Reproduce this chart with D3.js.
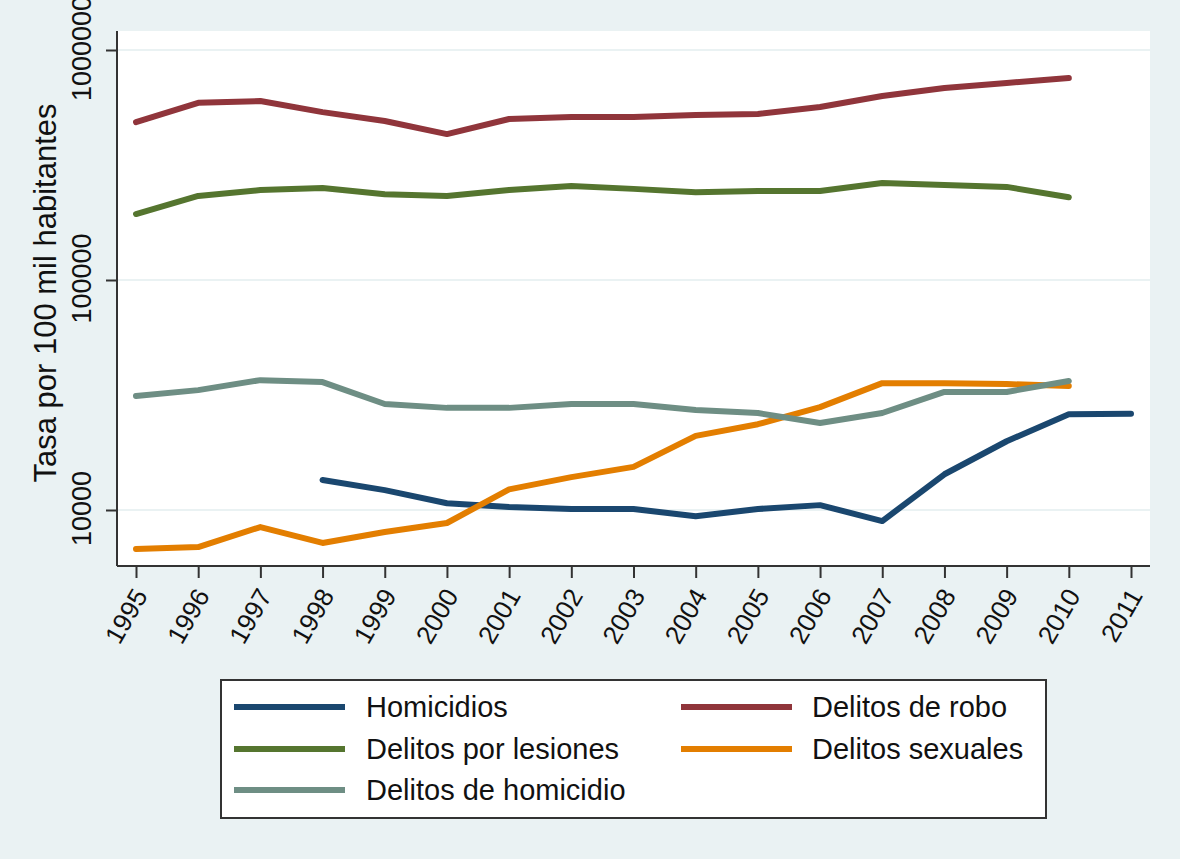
<!DOCTYPE html>
<html>
<head>
<meta charset="utf-8">
<script src="https://cdn.jsdelivr.net/npm/d3@7"></script>
<style>
    body { margin: 0; background: #eaf2f3; }
    svg { display: block; font-family: "Liberation Sans", Arial, sans-serif; }
</style>
</head>
<body>
<svg id="chart" width="1180" height="859"></svg>
<script>
// data (rate per 100 mil habitantes, log scale)
const years = [1995, 1996, 1997, 1998, 1999, 2000, 2001, 2002, 2003, 2004, 2005, 2006, 2007, 2008, 2009, 2010, 2011];
const homicidios = [null, null, null, 13500, 12200, 10700, 10300, 10100, 10100, 9400, 10100, 10500, 8950, 14300, 19900, 26100, 26200];
const delitosRobo = [486000, 589000, 600000, 537000, 491000, 431000, 501000, 511000, 511000, 522000, 527000, 565000, 631000, 684000, 719000, 755000, null];
const delitosLesiones = [193600, 232000, 246000, 251000, 236000, 232000, 246000, 256000, 249000, 241000, 244000, 244000, 264000, 259000, 254000, 229000, null];
const delitosSexuales = [6770, 6900, 8430, 7190, 8020, 8780, 12300, 13900, 15400, 21000, 23600, 28000, 35600, 35600, 35300, 34600, null];
const delitosHomicidio = [31300, 33200, 36700, 36000, 28900, 27800, 27800, 28900, 28900, 27200, 26400, 23900, 26400, 32600, 32600, 36400, null];

const seriesNames = ["Homicidios", "Delitos de robo", "Delitos por lesiones", "Delitos sexuales", "Delitos de homicidio"];
const seriesValues = [homicidios, delitosRobo, delitosLesiones, delitosSexuales, delitosHomicidio];
const seriesColors = ["#1a476f", "#90353b", "#55752f", "#e37e00", "#6e8e84"];
const yTicks = [10000, 100000, 1000000];

const svg = d3.select("#chart");

// graph region and plot region
svg.append("rect").attr("width", 1180).attr("height", 859).attr("fill", "#eaf2f3");
const plot = { left: 117, right: 1150, top: 31, bottom: 566 };
svg.append("rect")
    .attr("x", plot.left).attr("y", plot.top)
    .attr("width", plot.right - plot.left).attr("height", plot.bottom - plot.top)
    .attr("fill", "#fff");

const x = d3.scaleLinear().domain([1995, 2011]).range([136, 1131]);
const y = d3.scaleLog().domain([10000, 1000000]).range([510, 50]);

// grid
svg.append("g").selectAll("line")
    .data(yTicks)
    .join("line")
    .attr("x1", plot.left).attr("x2", plot.right)
    .attr("y1", d => y(d)).attr("y2", d => y(d))
    .attr("stroke", "#eaf2f3").attr("stroke-width", 2);

// lines
const line = d3.line()
    .defined(d => d.v !== null)
    .x(d => x(d.year))
    .y(d => y(d.v));

svg.append("g").selectAll("path")
    .data(seriesValues.map((vals, i) => ({ color: seriesColors[i], pts: years.map((yr, j) => ({ year: yr, v: vals[j] })) })))
    .join("path")
    .attr("d", d => line(d.pts))
    .attr("fill", "none")
    .attr("stroke", d => d.color)
    .attr("stroke-width", 6)
    .attr("stroke-linejoin", "round")
    .attr("stroke-linecap", "round");

// y axis
const yAxis = svg.append("g")
    .attr("transform", `translate(${plot.left},0)`)
    .call(d3.axisLeft(y).tickValues(yTicks).tickFormat(d3.format("d")).tickSize(11).tickSizeOuter(0));
yAxis.select(".domain").attr("d", `M0,${plot.top}V${plot.bottom}`).attr("stroke", "#333").attr("stroke-width", 2);
yAxis.selectAll(".tick line").attr("stroke", "#333").attr("stroke-width", 2);
yAxis.selectAll(".tick text")
    .attr("x", 2).attr("y", -26).attr("dy", 0)
    .attr("transform", "rotate(-90)")
    .attr("text-anchor", "middle")
    .attr("fill", "#111")
    .style("font-size", "27px");

// x axis
const xAxis = svg.append("g")
    .attr("transform", `translate(0,${plot.bottom})`)
    .call(d3.axisBottom(x).tickValues(years).tickFormat(d3.format("d")).tickSize(12).tickSizeOuter(0));
xAxis.select(".domain").attr("d", `M${plot.left},0H${plot.right}`).attr("stroke", "#333").attr("stroke-width", 2);
xAxis.selectAll(".tick line").attr("stroke", "#333").attr("stroke-width", 2);
xAxis.selectAll(".tick text")
    .attr("x", 0).attr("y", 0).attr("dy", "0.35em")
    .attr("transform", "translate(4,25) rotate(-60)")
    .attr("text-anchor", "end")
    .attr("fill", "#111")
    .style("font-size", "26px");

// y title
svg.append("text")
    .attr("transform", "translate(56,293) rotate(-90)")
    .attr("text-anchor", "middle")
    .attr("fill", "#111")
    .style("font-size", "31px")
    .text("Tasa por 100 mil habitantes");

// legend
const legend = svg.append("g");
legend.append("rect")
    .attr("x", 221).attr("y", 680).attr("width", 825).attr("height", 138)
    .attr("fill", "#fff").attr("stroke", "#333").attr("stroke-width", 2);

const colX = [234, 681];
const rowY = [707, 749, 790];
const item = legend.selectAll("g.item")
    .data(seriesNames.map((n, i) => ({ name: n, color: seriesColors[i], col: i % 2, row: Math.floor(i / 2) })))
    .join("g")
    .attr("class", "item")
    .attr("transform", d => `translate(${colX[d.col]},${rowY[d.row]})`);
item.append("line")
    .attr("x1", 0).attr("x2", 111)
    .attr("stroke", d => d.color).attr("stroke-width", 6);
item.append("text")
    .attr("x", d => d.col === 0 ? 132 : 131)
    .attr("dy", "0.35em")
    .attr("fill", "#111")
    .style("font-size", "29px")
    .text(d => d.name);
</script>
</body>
</html>
